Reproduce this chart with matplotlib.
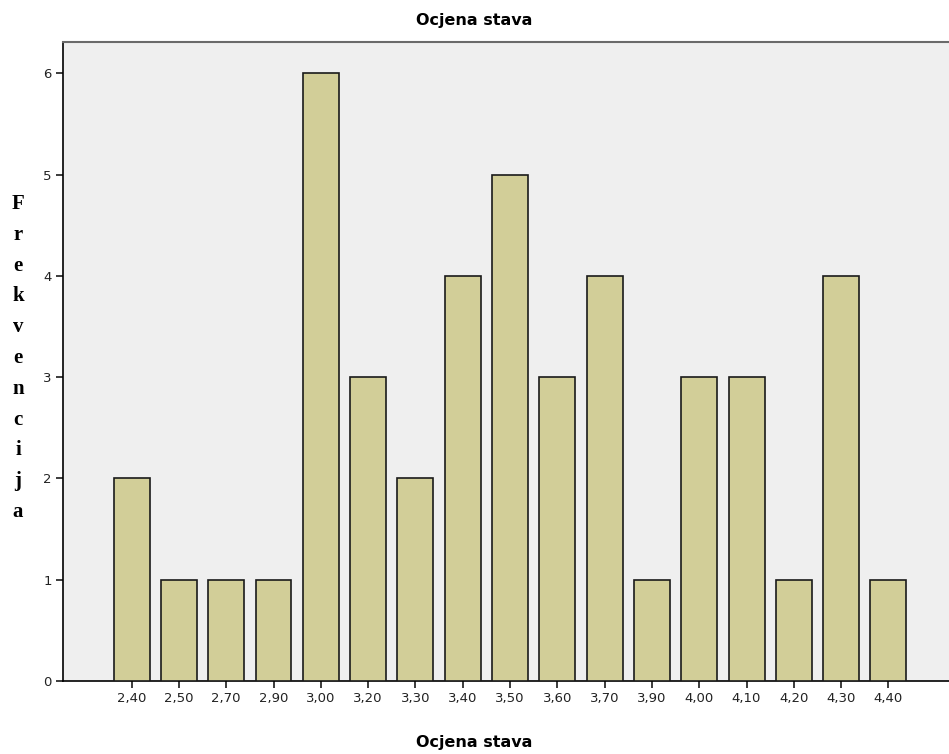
import matplotlib
matplotlib.use('Agg')
import matplotlib.pyplot as plt
import numpy as np

# ocjene i frekvencije
ocjene = ['2,40', '2,50', '2,70', '2,90', '3,00', '3,20', '3,30', '3,40', '3,50',
          '3,60', '3,70', '3,90', '4,00', '4,10', '4,20', '4,30', '4,40']
frekvencija = [2, 1, 1, 1, 6, 3, 2, 4, 5, 3, 4, 1, 3, 3, 1, 4, 1]
y_ticks = [0, 1, 2, 3, 4, 5, 6]

fig = plt.figure(figsize=(9.49, 7.54), dpi=100)
ax = fig.add_axes([63/949, 73/754, 886/949, 639/754])
ax.set_facecolor('#efefef')

x = np.arange(len(ocjene))
ax.bar(x, frekvencija, width=0.76, color='#d2ce98', edgecolor='#1a1a1a', linewidth=1.2, zorder=3)

ax.set_xlim(-1.45, 17.28)
ax.set_ylim(0, 6.31)
ax.set_xticks(x)
ax.set_xticklabels(ocjene, fontsize=9.5, color='#222222')
ax.set_yticks(y_ticks)
ax.set_yticklabels([str(v) for v in y_ticks], fontsize=9.5, color='#222222')
ax.tick_params(axis='both', direction='out', length=5, width=1.2, color='#1a1a1a', pad=3)

ax.spines['right'].set_visible(False)
ax.spines['top'].set_color('#6a6a6a')
ax.spines['top'].set_linewidth(1.5)
ax.spines['left'].set_linewidth(1.2)
ax.spines['bottom'].set_linewidth(1.2)

fig.text(0.5, 1 - 20/754, 'Ocjena stava', ha='center', va='center', fontsize=11.5, fontweight='bold')
fig.text(0.5, 1 - 743/754, 'Ocjena stava', ha='center', va='center', fontsize=11.5, fontweight='bold')
fig.text(18/949, 1 - 358/754, '\n'.join('Frekvencija'), ha='center', va='center',
         fontsize=15, fontweight='bold', family='Liberation Serif', linespacing=1.72)

fig.savefig('out.png', dpi=100)
